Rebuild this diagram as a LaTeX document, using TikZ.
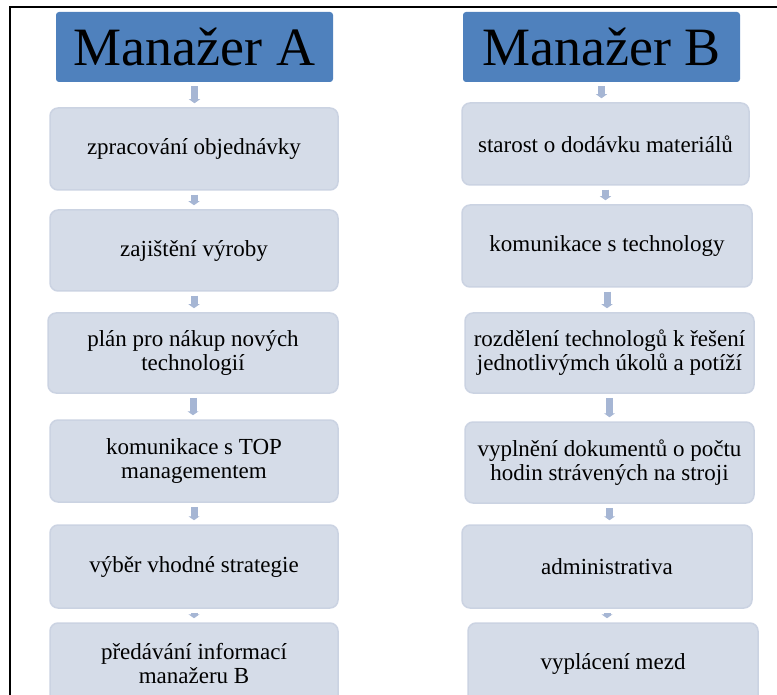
\documentclass[tikz,border=0pt]{standalone}
\usepackage{fontspec}
\setmainfont{Liberation Serif}
\newfontfamily\timesface{Liberation Serif}
\usetikzlibrary{arrows.meta}
\definecolor{headblue}{RGB}{79,129,189}
\definecolor{stepfill}{RGB}{213,220,232}
\definecolor{stepedge}{RGB}{203,211,226}
\definecolor{linkblue}{RGB}{166,182,212}
\tikzset{
  header/.style={fill=headblue, rounded corners=3pt, minimum width=277pt,
    minimum height=70pt, inner sep=0pt,
    font=\timesface\fontsize{54}{58}\selectfont},
  stepbox/.style={fill=stepfill, draw=stepedge, line width=1.5pt,
    rounded corners=8pt, minimum width=288pt, minimum height=82pt,
    inner sep=2pt, align=center,
    font=\timesface\fontsize{23}{24}\selectfont},
  link/.style={draw=linkblue, line width=7pt,
    -{Triangle[width=11pt,length=4pt]}, shorten <=4pt, shorten >=4pt},
  frame/.style={line width=2pt, draw=black}
}
\begin{document}
\begin{tikzpicture}[x=1pt,y=-1pt]
\useasboundingbox (0,0) rectangle (777,695);
\clip (0,0) rectangle (777,695);
\draw[frame] (10,700) -- (10,7) -- (780,7);

% left column
\node[header] (hA) at (194.5,47) {Manažer A};
\node[stepbox] (a1) at (194,149) {zpracování objednávky};
\node[stepbox, minimum height=81pt] (a2) at (194,250.5) {zajištění výroby};
\node[stepbox, minimum width=290pt, minimum height=80pt] (a3) at (193,353) {plán pro nákup nových\\technologií};
\node[stepbox] (a4) at (194,461) {komunikace s TOP\\managementem};
\node[stepbox, minimum height=83pt] (a5) at (194,566.5) {výběr vhodné strategie};
\node[stepbox] (a6) at (194,664) {předávání informací\\manažeru B};

% right column
\node[header] (hB) at (601.5,47) {Manažer B};
\node[stepbox, minimum width=287pt] (b1) at (605.5,144) {starost o dodávku materiálů};
\node[stepbox, minimum width=290pt] (b2) at (607,246) {komunikace s technology};
\node[stepbox, minimum width=289pt, minimum height=80pt] (b3) at (609.5,353) {rozdělení technologů k řešení\\jednotlivýmch úkolů a potíží};
\node[stepbox, minimum width=289pt, minimum height=81pt] (b4) at (609.5,462.5) {vyplnění dokumentů o počtu\\hodin strávených na stroji};
\node[stepbox, minimum width=290pt, minimum height=83pt] (b5) at (607,566.5) {administrativa};
\node[stepbox, minimum width=290pt] (b6) at (613,664) {vyplácení mezd};

% connectors
\foreach \u/\v in {hA/a1,a1/a2,a2/a3,a3/a4,a4/a5,a5/a6,hB/b1,b1/b2,b2/b3,b3/b4,b4/b5,b5/b6}
  \draw[link] (\u.south) -- (\u.south |- \v.north);
\end{tikzpicture}
\end{document}
